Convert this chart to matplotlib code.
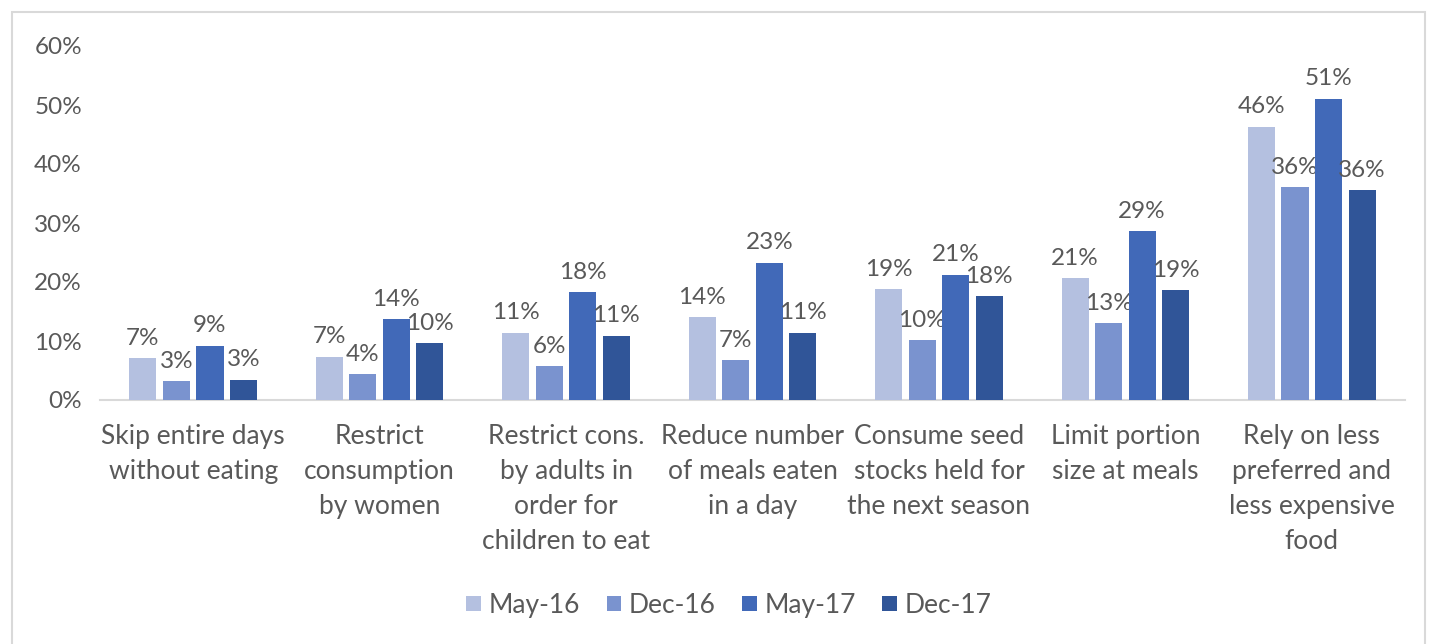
import numpy as np
import matplotlib.pyplot as plt
from matplotlib.patches import Rectangle

categories = ["Skip entire days\nwithout eating",
              "Restrict\nconsumption\nby women",
              "Restrict cons.\nby adults in\norder for\nchildren to eat",
              "Reduce number\nof meals eaten\nin a day",
              "Consume seed\nstocks held for\nthe next season",
              "Limit portion\nsize at meals",
              "Rely on less\npreferred and\nless expensive\nfood"]
series = ["May-16", "Dec-16", "May-17", "Dec-17"]
may16 = [7.1, 7.3, 11.4, 14.0, 18.8, 20.6, 46.3]
dec16 = [3.2, 4.4, 5.7, 6.7, 10.1, 13.0, 36.1]
may17 = [9.2, 13.7, 18.3, 23.3, 21.2, 28.6, 51.1]
dec17 = [3.4, 9.6, 10.9, 11.4, 17.6, 18.6, 35.6]
colors = ["#B4C0E0", "#7A93CF", "#4169B8", "#305598"]

plt.rcParams['font.family'] = ['Lato', 'DejaVu Sans']
txt = "#595959"
fs = 19
fs_small = 17.5

fig = plt.figure(figsize=(14.3, 6.44), dpi=100)
# chart frame
fig.patches.append(Rectangle((12/1430, -0.01), 1413/1430, 1 - 12/644 + 0.01,
                             transform=fig.transFigure, fill=False,
                             edgecolor="#D9D9D9", linewidth=1.5))
ax = fig.add_axes([100/1430, 1 - 400/644, 1305/1430, 354/644])

x = np.arange(len(categories))
w = 0.145
step = 0.18
for i, (name, vals) in enumerate(zip(series, [may16, dec16, may17, dec17])):
    pos = x + (i - 1.5) * step
    ax.bar(pos, vals, width=w, color=colors[i], label=name, zorder=3)
    for p, v in zip(pos, vals):
        ax.text(p, v + 1.6, f"{round(v)}%", ha="center", va="bottom",
                fontsize=fs_small, color=txt)

ax.set_ylim(0, 60)
ax.set_xlim(-0.5, len(categories) - 0.5)
ax.set_yticks(range(0, 61, 10))
ax.set_yticklabels([f"{t}%" for t in range(0, 61, 10)])
ax.set_xticks(x)
ax.set_xticklabels(categories, linespacing=1.5)
ax.tick_params(axis="both", length=0, labelcolor=txt)
ax.tick_params(axis="x", labelsize=fs, pad=17)
ax.tick_params(axis="y", labelsize=fs_small, pad=13)
for s in ["top", "right", "left"]:
    ax.spines[s].set_visible(False)
ax.spines["bottom"].set_color("#D9D9D9")
ax.spines["bottom"].set_linewidth(1.5)

leg = ax.legend(loc="center", bbox_to_anchor=(0.482, -0.58), ncol=4, frameon=False,
                fontsize=fs, handlelength=0.55, handleheight=0.55,
                handletextpad=0.3, columnspacing=1.0)
for t in leg.get_texts():
    t.set_color(txt)

fig.savefig("out.png", dpi=100)
